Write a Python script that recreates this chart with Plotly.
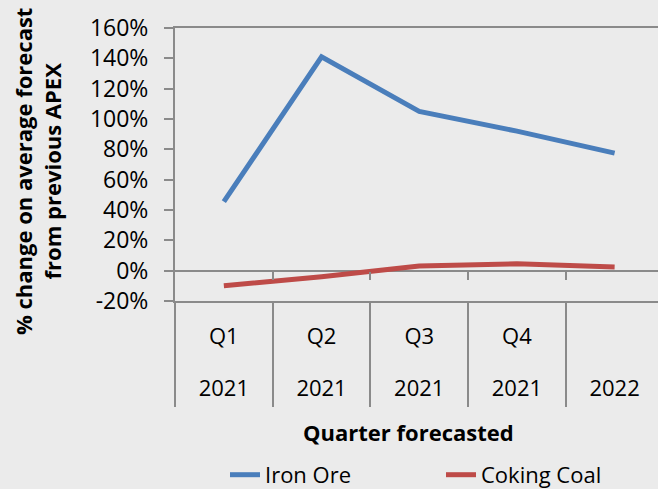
import plotly.graph_objects as go

quarters = ["Q1", "Q2", "Q3", "Q4", ""]
years = ["2021", "2021", "2021", "2021", "2022"]
iron_ore = [45.5, 141, 105, 92, 77.5]
coking_coal = [-10, -4, 3, 4.5, 2.5]
y_tick_vals = [-20, 0, 20, 40, 60, 80, 100, 120, 140, 160]
y_tick_text = ["-20%", "0%", "20%", "40%", "60%", "80%", "100%", "120%", "140%", "160%"]

x_pos = list(range(len(quarters)))
FONT = "Open Sans"
AX = "#8a8a8a"
BG = "#ebebeb"

fig = go.Figure()
fig.add_trace(go.Scatter(x=x_pos, y=iron_ore, mode="lines", name="Iron Ore",
                         line=dict(color="#4a7ebb", width=5)))
fig.add_trace(go.Scatter(x=x_pos, y=coking_coal, mode="lines", name="Coking Coal",
                         line=dict(color="#be4b48", width=5)))

xr = [-0.5, 4.444]
fig.update_layout(
    width=658, height=489,
    margin=dict(l=175, r=0, t=28, b=188, autoexpand=False),
    paper_bgcolor=BG, plot_bgcolor=BG,
    font=dict(family=FONT, size=22, color="#000000"),
    showlegend=True,
    legend=dict(orientation="h", x=(205 + 20 - 175) / 483, xanchor="left", y=-0.637,
                yanchor="middle", yref="paper", font=dict(size=22), entrywidth=171,
                bgcolor="rgba(0,0,0,0)"),
    xaxis=dict(range=xr, tickmode="array", tickvals=x_pos, ticktext=quarters,
               showline=True, linecolor=AX, linewidth=2, mirror=True, automargin=False,
               ticks="", showgrid=False, zeroline=False, ticklabelstandoff=15,
               tickfont=dict(size=22),
               minor=dict(tickmode="linear", tick0=-0.5, dtick=1, ticks="outside",
                          ticklen=104, tickwidth=2, tickcolor=AX, showgrid=False)),
    xaxis2=dict(range=xr, overlaying="x", anchor="y", side="bottom", automargin=False,
                tickmode="array", tickvals=x_pos, ticktext=years, tickfont=dict(size=22),
                showline=False, ticks="", showgrid=False, zeroline=False,
                ticklabelstandoff=72),
    xaxis3=dict(range=xr, overlaying="x", anchor="free", position=20 / 180, side="bottom",
                tickmode="array", tickvals=[0.5, 1.5, 2.5, 3.5], showticklabels=False,
                ticks="outside", ticklen=8, tickwidth=2, tickcolor=AX, automargin=False,
                showline=False, showgrid=False, zeroline=False),
    yaxis=dict(range=[-20, 160], tickmode="array", tickvals=y_tick_vals, ticktext=y_tick_text,
               showline=True, linecolor=AX, linewidth=2, ticks="outside", ticklen=9,
               tickwidth=2, tickcolor=AX, showgrid=False, zeroline=True, automargin=False,
               zerolinecolor=AX, zerolinewidth=2, ticklabelstandoff=11,
               tickfont=dict(size=23)),
)
# invisible helper traces so the extra axes render
fig.add_trace(go.Scatter(x=x_pos, y=iron_ore, xaxis="x2", mode="none", showlegend=False,
                         hoverinfo="skip"))
fig.add_trace(go.Scatter(x=x_pos, y=iron_ore, xaxis="x3", mode="none", showlegend=False,
                         hoverinfo="skip"))

fig.add_annotation(text="<b>% change on average forecast<br>from previous APEX</b>",
                   xref="paper", yref="paper", x=(37 - 175) / 483, y=(301 - 172) / 273,
                   textangle=-90, showarrow=False, font=dict(size=22, family=FONT),
                   xanchor="center", yanchor="middle")
fig.add_annotation(text="<b>Quarter forecasted</b>", xref="paper", yref="paper",
                   x=(408 - 175) / 483, y=(301 - 432) / 273, showarrow=False,
                   font=dict(size=22, family=FONT), xanchor="center", yanchor="middle")

fig.write_html("out.html", config={"displayModeBar": False},
               post_script="document.body.style.margin='0';document.body.style.overflow='hidden';")
